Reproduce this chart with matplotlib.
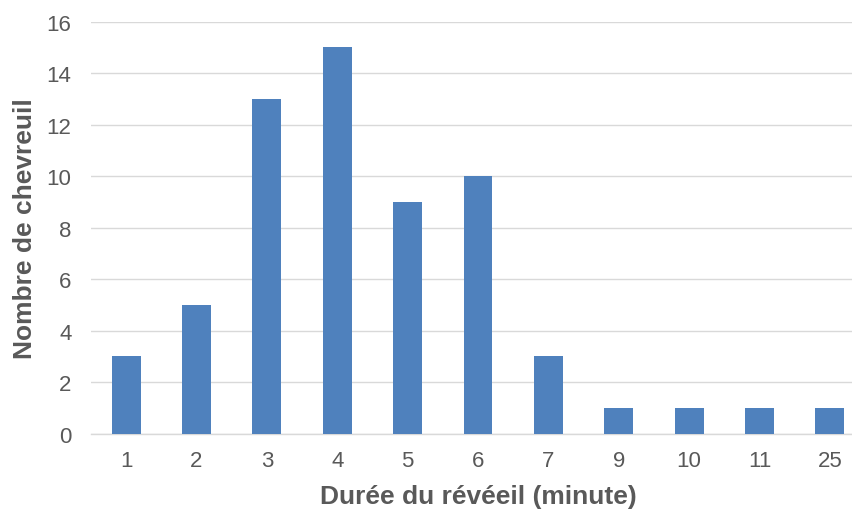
import matplotlib
matplotlib.use("Agg")
import matplotlib.pyplot as plt

categories = ["1", "2", "3", "4", "5", "6", "7", "9", "10", "11", "25"]
counts = [3, 5, 13, 15, 9, 10, 3, 1, 1, 1, 1]
yticks = [0, 2, 4, 6, 8, 10, 12, 14, 16]

plt.rcParams['font.family'] = ['Liberation Sans', 'DejaVu Sans']
fig = plt.figure(figsize=(8.53, 5.10), dpi=100)
ax = fig.add_axes([91/853, (510-434.7)/510, 774/853, 412/510])

x = list(range(len(categories)))
ax.bar(x, counts, width=0.41, color="#4F81BD", zorder=3)
ax.set_xlim(-0.5, len(categories) - 0.5)
ax.set_ylim(0, 16)
ax.set_yticks(yticks)
ax.set_xticks(x)
ax.set_xticklabels(categories)
ax.yaxis.grid(True, color="#D9D9D9", linewidth=1.0, zorder=0)
ax.set_axisbelow(True)
for s in ["top", "right", "left"]:
    ax.spines[s].set_visible(False)
ax.spines["bottom"].set_color("#D9D9D9")
ax.spines["bottom"].set_linewidth(1.0)
ax.tick_params(axis="both", length=0, labelsize=16, colors="#595959")
ax.tick_params(axis="x", pad=12)
ax.tick_params(axis="y", pad=14)
ax.set_xlabel("Durée du révéeil (minute)", fontsize=19, fontweight="bold", color="#595959", labelpad=9)
ax.set_ylabel("Nombre de chevreuil", fontsize=19, fontweight="bold", color="#595959", labelpad=7)

fig.savefig("out.png", dpi=100)
